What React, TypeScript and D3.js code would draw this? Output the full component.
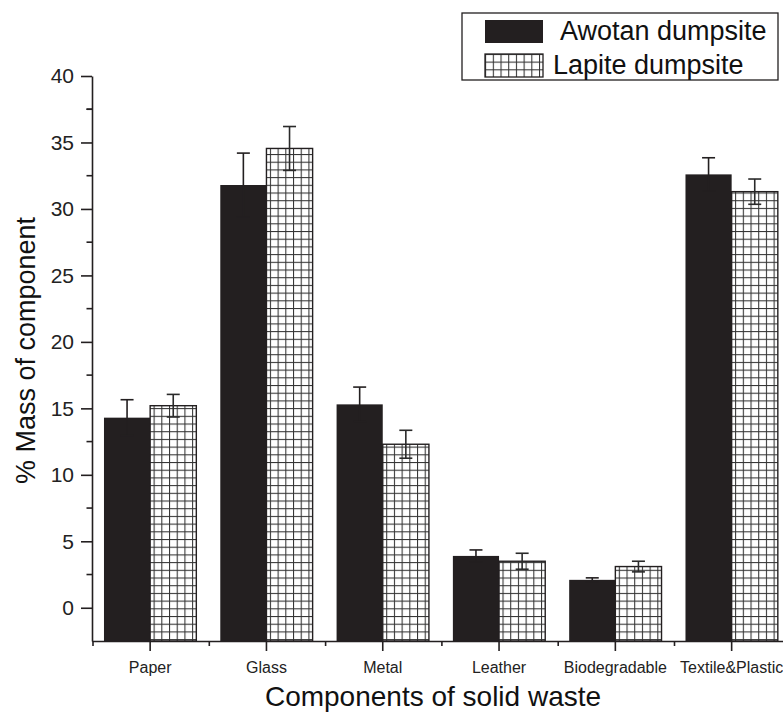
import React, { useEffect, useRef } from 'react';
import * as d3 from 'd3';

const categories = ['Paper', 'Glass', 'Metal', 'Leather', 'Biodegradable', 'Textile&Plastic'];
const seriesNames = ['Awotan dumpsite', 'Lapite dumpsite'];
const awotan = [14.3, 31.8, 15.3, 3.9, 2.1, 32.6];
const awotanErr = [1.35, 2.4, 1.3, 0.45, 0.15, 1.25];
const lapite = [15.2, 34.55, 12.3, 3.5, 3.1, 31.3];
const lapiteErr = [0.85, 1.65, 1.05, 0.6, 0.4, 0.95];
const yTicks = [0, 5, 10, 15, 20, 25, 30, 35, 40];

const FONT = '"Liberation Sans", Arial, Helvetica, sans-serif';
const INK = '#231f20';

function Chart() {
  const ref = useRef<SVGSVGElement>(null);

  useEffect(() => {
    const svg = d3.select(ref.current);
    svg.selectAll('*').remove();

    const left = 92, bottom = 641, top = 76;
    const step = 116.3;

    const y = d3.scaleLinear().domain([-2.5, 40]).range([bottom, top]);
    const x0 = d3.scaleBand<string>()
      .domain(categories)
      .range([left, left + step * categories.length]);
    const barW = x0.bandwidth() * 0.397;
    const x1 = d3.scaleBand<string>()
      .domain(seriesNames)
      .range([(x0.bandwidth() - 2 * barW) / 2, (x0.bandwidth() + 2 * barW) / 2]);

    // hatch pattern for Lapite bars
    const defs = svg.append('defs');
    const cell = 7.7;
    const pat = defs.append('pattern')
      .attr('id', 'grid')
      .attr('patternUnits', 'userSpaceOnUse')
      .attr('width', cell)
      .attr('height', cell);
    pat.append('rect').attr('width', cell).attr('height', cell).attr('fill', '#fff');
    pat.append('line').attr('x1', 0.5).attr('x2', 0.5).attr('y1', 0).attr('y2', cell)
      .attr('stroke', '#333').attr('stroke-width', 1.1);
    pat.append('line').attr('y1', 0.5).attr('y2', 0.5).attr('x1', 0).attr('x2', cell)
      .attr('stroke', '#333').attr('stroke-width', 1.1);

    const rows = categories.map((c, i) => ({
      cat: c,
      vals: [
        { s: seriesNames[0], v: awotan[i], e: awotanErr[i] },
        { s: seriesNames[1], v: lapite[i], e: lapiteErr[i] },
      ],
    }));

    const g = svg.append('g');
    const groups = g.selectAll('g.cat')
      .data(rows)
      .enter().append('g')
      .attr('class', 'cat')
      .attr('transform', d => `translate(${x0(d.cat)},0)`);

    groups.selectAll('rect')
      .data(d => d.vals)
      .enter().append('rect')
      .attr('x', d => x1(d.s)!)
      .attr('width', barW)
      .attr('y', d => y(d.v))
      .attr('height', d => bottom - y(d.v))
      .attr('fill', (d, i) => (i === 0 ? INK : 'url(#grid)'))
      .attr('stroke', INK)
      .attr('stroke-width', (d, i) => (i === 0 ? 0 : 1.4));

    // error bars
    const capW = 13;
    const eb = groups.selectAll('g.err')
      .data(d => d.vals)
      .enter().append('g')
      .attr('class', 'err')
      .attr('stroke', (d, i) => (i === 0 ? INK : '#2a2a2a'))
      .attr('stroke-width', 1.6);
    eb.append('line')
      .attr('x1', d => x1(d.s)! + barW / 2)
      .attr('x2', d => x1(d.s)! + barW / 2)
      .attr('y1', d => y(d.v - d.e))
      .attr('y2', d => y(d.v + d.e));
    eb.append('line')
      .attr('x1', d => x1(d.s)! + barW / 2 - capW / 2)
      .attr('x2', d => x1(d.s)! + barW / 2 + capW / 2)
      .attr('y1', d => y(d.v + d.e))
      .attr('y2', d => y(d.v + d.e));
    eb.append('line')
      .attr('x1', d => x1(d.s)! + barW / 2 - capW / 2)
      .attr('x2', d => x1(d.s)! + barW / 2 + capW / 2)
      .attr('y1', d => y(d.v - d.e))
      .attr('y2', d => y(d.v - d.e));

    // y axis
    const yAxis = svg.append('g')
      .attr('transform', `translate(${left},0)`)
      .call(d3.axisLeft(y).tickValues(yTicks).tickSize(11).tickSizeOuter(0).tickPadding(7));
    yAxis.selectAll('text').attr('font-size', 21).attr('font-family', FONT).attr('fill', '#222');
    yAxis.selectAll('line,path').attr('stroke', INK).attr('stroke-width', 1.6);
    yAxis.append('g').selectAll('line')
      .data(yTicks.map(t => t - 2.5).slice(1).concat([37.5]))
      .enter().append('line')
      .attr('x1', -5.5).attr('x2', 0)
      .attr('y1', d => y(d)).attr('y2', d => y(d))
      .attr('stroke', INK).attr('stroke-width', 1.6);

    // x axis
    const xAxis = svg.append('g')
      .attr('transform', `translate(0,${bottom})`)
      .call(d3.axisBottom(x0).tickSize(10).tickSizeOuter(0).tickPadding(11));
    xAxis.selectAll('text').attr('font-size', 16).attr('font-family', FONT).attr('fill', '#222');
    xAxis.selectAll('line,path').attr('stroke', INK).attr('stroke-width', 1.6);
    xAxis.append('g').selectAll('line')
      .data(categories)
      .enter().append('line')
      .attr('x1', d => x0(d)! + 1).attr('x2', d => x0(d)! + 1)
      .attr('y1', 0).attr('y2', 5)
      .attr('stroke', INK).attr('stroke-width', 1.6);

    // axis titles
    svg.append('text')
      .attr('x', 433).attr('y', 706)
      .attr('text-anchor', 'middle')
      .attr('font-family', FONT).attr('font-size', 28).attr('fill', '#111')
      .text('Components of solid waste');
    svg.append('text')
      .attr('transform', `translate(35,${(top + bottom) / 2 - 8}) rotate(-90)`)
      .attr('text-anchor', 'middle')
      .attr('font-family', FONT).attr('font-size', 27).attr('fill', '#111')
      .text('% Mass of component');

    // legend
    const lg = svg.append('g');
    lg.append('rect')
      .attr('x', 462).attr('y', 13).attr('width', 316).attr('height', 67)
      .attr('fill', '#fff').attr('stroke', INK).attr('stroke-width', 1.3);
    seriesNames.forEach((s, i) => {
      lg.append('rect')
        .attr('x', 485).attr('y', 20 + i * 34).attr('width', 58).attr('height', 23)
        .attr('fill', i === 0 ? INK : 'url(#grid)')
        .attr('stroke', INK).attr('stroke-width', i === 0 ? 0 : 1.3);
      lg.append('text')
        .attr('x', i === 0 ? 560 : 553).attr('y', 40 + i * 34)
        .attr('font-family', FONT).attr('font-size', 27).attr('fill', '#111')
        .text(s);
    });
  }, []);

  return <svg ref={ref} width={783} height={715} style={{ position: 'absolute', left: 0, top: 0, background: '#fff' }} />;
}

export default function App() {
  return <Chart />;
}
